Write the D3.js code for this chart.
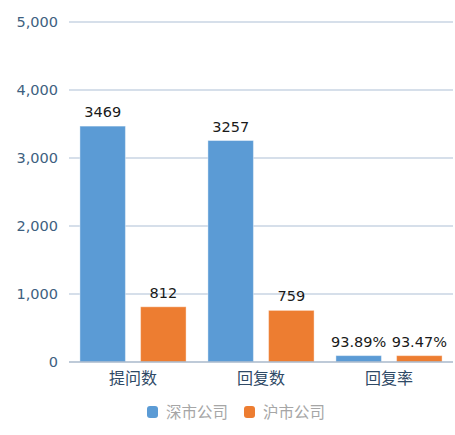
<!DOCTYPE html>
<html>
<head>
<meta charset="utf-8">
<script src="https://cdn.jsdelivr.net/npm/d3@7"></script>
<style>
body { margin: 0; background: #fff; }
text { font-family: "Noto Sans CJK SC", "DejaVu Sans", sans-serif; }
</style>
</head>
<body>
<svg id="chart" width="455" height="435"></svg>
<script>
var categories = ['提问数', '回复数', '回复率'];
var seriesNames = ['深市公司', '沪市公司'];
var szValues = [3469, 3257, 93.89];
var shValues = [812, 759, 93.47];
var szLabels = ['3469', '3257', '93.89%'];
var shLabels = ['812', '759', '93.47%'];
var yTicks = [0, 1000, 2000, 3000, 4000, 5000];
var colors = ['#5b9bd5', '#ed7d31'];

var svg = d3.select('#chart');
var plotLeft = 69, plotRight = 453, plotTop = 22, plotBottom = 362;

var x = d3.scaleBand().domain(categories).range([plotLeft, plotRight]);
var inner = d3.scaleBand().domain([0, 1]).range([0, x.bandwidth()]).paddingInner(0.25).paddingOuter(0.18);
var y = d3.scaleLinear().domain([0, 5000]).range([plotBottom, plotTop]);

// gridlines
svg.append('g').selectAll('line')
	.data(yTicks.filter(function(d){ return d > 0; }))
	.enter().append('line')
	.attr('x1', plotLeft).attr('x2', plotRight)
	.attr('y1', function(d){ return y(d); })
	.attr('y2', function(d){ return y(d); })
	.attr('stroke', '#c9d5e3')
	.attr('stroke-width', 1.3);

// y axis labels
var yAxis = d3.axisLeft(y).tickValues(yTicks).tickFormat(d3.format(',')).tickSize(0).tickPadding(11);
var ya = svg.append('g').attr('transform', 'translate(' + plotLeft + ',0)').call(yAxis);
ya.select('.domain').remove();
ya.selectAll('text').attr('fill', '#3e5f80').style('font-size', '14.5px')
	.style('font-family', '"DejaVu Sans", sans-serif');

var series = [szValues, shValues];
var labels = [szLabels, shLabels];
series.forEach(function(vals, s){
	var g = svg.append('g');
	g.selectAll('rect').data(vals).enter().append('rect')
		.attr('x', function(d, i){ return x(categories[i]) + inner(s); })
		.attr('y', function(d){ return y(d); })
		.attr('width', inner.bandwidth())
		.attr('height', function(d){ return y(0) - y(d); })
		.attr('fill', colors[s])
		.attr('stroke', '#ffffff').attr('stroke-opacity', 0.4).attr('stroke-width', 1);
	g.selectAll('text').data(vals).enter().append('text')
		.attr('x', function(d, i){ return x(categories[i]) + inner(s) + inner.bandwidth() / 2; })
		.attr('y', function(d){ return y(d) - 9; })
		.attr('text-anchor', 'middle')
		.attr('fill', '#1a1a1a')
		.style('font-size', '14.5px')
		.style('font-family', '"DejaVu Sans", sans-serif')
		.text(function(d, i){ return labels[s][i]; });
});

// x axis
svg.append('line').attr('x1', plotLeft).attr('x2', plotRight)
	.attr('y1', y(0)).attr('y2', y(0))
	.attr('stroke', '#a9b8cb').attr('stroke-width', 1.5);
var xa = svg.append('g').attr('transform', 'translate(0,' + y(0) + ')')
	.call(d3.axisBottom(x).tickSize(0).tickPadding(11));
xa.select('.domain').remove();
xa.selectAll('text').attr('fill', '#2f4a66').style('font-size', '16px')
	.style('font-family', '"Noto Sans CJK SC", sans-serif');

// legend
var legend = svg.append('g');
var lx = [147, 244];
seriesNames.forEach(function(name, i){
	legend.append('rect')
		.attr('x', lx[i]).attr('y', 406)
		.attr('width', 11).attr('height', 12).attr('rx', 3)
		.attr('fill', colors[i]);
	legend.append('text')
		.attr('x', lx[i] + 19).attr('y', 418)
		.attr('fill', '#a6a6a6')
		.style('font-size', '15.5px')
		.text(name);
});
</script>
</body>
</html>
